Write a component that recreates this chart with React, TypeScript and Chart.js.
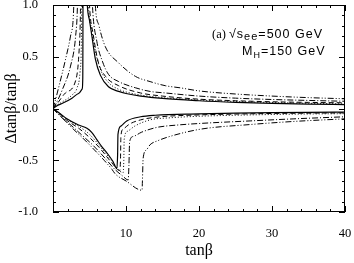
import React, { useEffect, useRef } from 'react';
import { Chart, registerables } from 'chart.js';
Chart.register(...registerables);

// ---- data ----
const xTickValues = [10, 20, 30, 40];
const yTickValues = [-1.0, -0.5, 0.0, 0.5, 1.0];

// upper branches (values above 1.0 lie outside the frame and are clipped)
const solidUpX = [0, 0.5, 1.3, 2.6, 3.5, 4.0, 4.08, 4.12, 4.6, 4.7, 5.0, 5.33, 5.8, 6.5, 7.6, 9, 10, 12, 15, 20, 25, 30, 35, 40];
const solidUpY = [0, 0.025, 0.05, 0.1, 0.145, 0.19, 0.3, 1.2, 1.2, 1.0, 0.85, 0.7, 0.48, 0.32, 0.21, 0.165, 0.145, 0.12, 0.097, 0.075, 0.06, 0.05, 0.043, 0.038];
const dotUpX = [0, 0.5, 1.3, 2.6, 3.3, 3.7, 3.9, 3.95, 4.75, 4.85, 5.3, 5.9, 6.6, 7.6, 9, 10, 12, 15, 20, 25, 30, 35, 40];
const dotUpY = [0, 0.03, 0.065, 0.13, 0.2, 0.35, 0.7, 1.2, 1.2, 1.0, 0.76, 0.52, 0.36, 0.25, 0.185, 0.16, 0.13, 0.105, 0.082, 0.068, 0.058, 0.05, 0.045];
const dashUpX = [0, 0.5, 1.7, 3.1, 3.55, 3.75, 3.8, 4.9, 5.0, 5.5, 6.2, 7.2, 9, 12, 15, 20, 25, 30, 35, 40];
const dashUpY = [0, 0.04, 0.15, 0.27, 0.53, 0.9, 1.2, 1.2, 1.0, 0.72, 0.45, 0.31, 0.22, 0.15, 0.12, 0.09, 0.075, 0.065, 0.059, 0.055];
const dashDotUpX = [0, 0.5, 1.27, 2.4, 3.1, 3.35, 3.4, 5.3, 5.4, 6.0, 6.8, 7.6, 9, 11.3, 13.3, 15.4, 20, 25, 30, 35, 40];
const dashDotUpY = [0, 0.06, 0.18, 0.41, 0.7, 1.0, 1.2, 1.2, 1.0, 0.65, 0.45, 0.33, 0.26, 0.2, 0.165, 0.15, 0.12, 0.1, 0.087, 0.078, 0.07];
const dashDotDotUpX = [0, 0.4, 0.8, 1.7, 2.4, 2.85, 2.9, 5.7, 5.8, 6.3, 7.15, 9, 11.3, 13.3, 15.4, 17.4, 20, 25, 30, 35, 40];
const dashDotDotUpY = [0, 0.1, 0.21, 0.47, 0.7, 1.0, 1.2, 1.2, 1.0, 0.8, 0.6, 0.44, 0.31, 0.26, 0.22, 0.2, 0.17, 0.14, 0.12, 0.105, 0.094];

// lower branches
const solidLoX = [0, 1, 1.9, 3.5, 4.65, 5.3, 6, 6.7, 7.4, 8.2, 8.75, 8.85, 8.9, 9.3, 10.1, 12, 14, 20, 25, 30, 35, 40];
const solidLoY = [0, -0.05, -0.1, -0.16, -0.19, -0.23, -0.3, -0.37, -0.43, -0.51, -0.58, -0.45, -0.25, -0.17, -0.12, -0.08, -0.065, -0.052, -0.045, -0.04, -0.037, -0.035];
const dotLoX = [0, 1, 2, 3.5, 5, 6.5, 8, 9.6, 9.7, 9.75, 10.2, 11.2, 13.3, 16, 20, 25, 30, 35, 40];
const dotLoY = [0, -0.055, -0.11, -0.17, -0.25, -0.37, -0.5, -0.62, -0.5, -0.3, -0.22, -0.17, -0.11, -0.09, -0.075, -0.065, -0.058, -0.053, -0.05];
const dashLoX = [0, 1, 2, 3.5, 5, 6.5, 8, 9.15, 9.25, 9.3, 9.6, 10.5, 12, 14, 20, 25, 30, 35, 40];
const dashLoY = [0, -0.06, -0.12, -0.19, -0.28, -0.39, -0.52, -0.6, -0.48, -0.27, -0.2, -0.15, -0.11, -0.085, -0.062, -0.054, -0.048, -0.045, -0.042];
const dashDotLoX = [0, 1, 2.6, 4, 5.4, 7, 8.5, 9.5, 10.3, 10.4, 10.5, 11, 12.1, 13.3, 14.4, 17, 20, 27, 33, 40];
const dashDotLoY = [0, -0.075, -0.17, -0.26, -0.35, -0.47, -0.59, -0.65, -0.69, -0.55, -0.32, -0.27, -0.23, -0.2, -0.18, -0.16, -0.145, -0.12, -0.1, -0.08];
const dashDotDotLoX = [0, 1, 2.64, 4, 5.4, 7, 8.1, 8.5, 10, 12.2, 12.25, 12.35, 12.8, 13.3, 14.4, 16, 20.2, 27, 33, 40];
const dashDotDotLoY = [0, -0.07, -0.19, -0.28, -0.38, -0.5, -0.59, -0.63, -0.7, -0.79, -0.7, -0.48, -0.4, -0.35, -0.31, -0.27, -0.2, -0.155, -0.125, -0.1];

const SOLID: number[] = [];
const DASH = [5, 3];
const DOT = [1, 2];
const DASHDOT = [6, 2, 1, 2];
const DASHDOTDOT = [6, 2, 1, 2, 1, 2];

const curves = [
  { xs: solidUpX, ys: solidUpY, dash: SOLID, w: 1.2 },
  { xs: solidLoX, ys: solidLoY, dash: SOLID, w: 1.2 },
  { xs: dotUpX, ys: dotUpY, dash: DOT, w: 1 },
  { xs: dotLoX, ys: dotLoY, dash: DOT, w: 1 },
  { xs: dashUpX, ys: dashUpY, dash: DASH, w: 1 },
  { xs: dashLoX, ys: dashLoY, dash: DASH, w: 1 },
  { xs: dashDotUpX, ys: dashDotUpY, dash: DASHDOT, w: 1 },
  { xs: dashDotLoX, ys: dashDotLoY, dash: DASHDOT, w: 1 },
  { xs: dashDotDotUpX, ys: dashDotDotUpY, dash: DASHDOTDOT, w: 1 },
  { xs: dashDotDotLoX, ys: dashDotDotLoY, dash: DASHDOTDOT, w: 1 },
];

const SERIF = "'Liberation Serif', 'Times New Roman', serif";
const SANS = "'Liberation Sans', Arial, sans-serif";

export default function App() {
  const ref = useRef<HTMLCanvasElement>(null);
  useEffect(() => {
    document.body.style.margin = '0';
    const canvas = ref.current!;
    const framePlugin = {
      id: 'framePlugin',
      afterDatasetsDraw(chart: any) {
        const { ctx, chartArea: a, scales } = chart;
        const xs = scales.x, ys = scales.y;
        ctx.save();
        ctx.strokeStyle = '#000';
        ctx.lineWidth = 1;
        ctx.setLineDash([]);
        ctx.strokeRect(Math.round(a.left) + 0.5, Math.round(a.top) + 0.5, Math.round(a.right - a.left) - 1, Math.round(a.bottom - a.top) - 1);
        const seg = (x1: number, y1: number, x2: number, y2: number) => {
          ctx.beginPath(); ctx.moveTo(x1, y1); ctx.lineTo(x2, y2); ctx.stroke();
        };
        for (let v = 0; v <= 40; v += 2) {
          const px = Math.round(xs.getPixelForValue(v)) + 0.5;
          const len = v % 10 === 0 ? 6 : 3;
          seg(px, a.bottom, px, a.bottom - len);
          seg(px, a.top, px, a.top + len);
        }
        for (let i = -10; i <= 10; i++) {
          const py = Math.round(ys.getPixelForValue(i / 10)) + 0.5;
          const len = i % 5 === 0 ? 6 : 3;
          seg(a.left, py, a.left + len, py);
          seg(a.right, py, a.right - len, py);
        }
        // annotation
        ctx.fillStyle = '#000';
        ctx.textBaseline = 'alphabetic';
        ctx.textAlign = 'left';
        const b1 = a.top + 33;
        const b2 = a.top + 50;
        let x = a.left + 159;
        const put = (t: string, font: string, dy: number, sp: string) => {
          ctx.font = font;
          (ctx as any).letterSpacing = sp;
          ctx.fillText(t, x, dy);
          x += ctx.measureText(t).width;
        };
        put('(a) ', `12.5px ${SERIF}`, b1, '0px');
        put('\u221As', `12.5px ${SANS}`, b1, '1px');
        put('ee', `11px ${SANS}`, b1 + 2, '1px');
        put('=500 GeV', `12.5px ${SANS}`, b1, '1px');
        x = a.left + 189;
        put('M', `12.5px ${SANS}`, b2, '1px');
        put('H', `9px ${SANS}`, b2 + 3, '1px');
        put('=150 GeV', `12.5px ${SANS}`, b2, '1px');
        ctx.restore();
      },
    };

    const chart = new Chart(canvas, {
      type: 'line',
      data: {
        datasets: curves.map((c) => ({
          data: c.xs.map((x, i) => ({ x, y: c.ys[i] })),
          borderColor: '#000',
          borderWidth: c.w,
          borderDash: c.dash,
          pointRadius: 0,
          fill: false,
          cubicInterpolationMode: 'monotone' as const,
        })),
      },
      options: {
        responsive: false,
        animation: false,
        layout: { padding: { left: 0, right: 9, top: 5, bottom: 0 } },
        plugins: { legend: { display: false }, tooltip: { enabled: false } },
        scales: {
          x: {
            type: 'linear',
            min: 0,
            max: 40,
            grid: { display: false },
            border: { display: false },
            afterBuildTicks: (s: any) => { s.ticks = xTickValues.map((v) => ({ value: v })); },
            afterFit: (s: any) => { s.height = 51; s.paddingLeft = 0; s.paddingRight = 0; },
            ticks: {
              color: '#000',
              padding: 6,
              font: { family: SERIF, size: 12.5 },
              maxRotation: 0,
              callback: (v: any) => String(v),
            },
            title: {
              display: true,
              text: 'tan\u03B2',
              color: '#000',
              font: { family: SERIF, size: 16 },
              padding: { top: 0, bottom: 3 },
            },
          },
          y: {
            type: 'linear',
            min: -1,
            max: 1,
            grid: { display: false },
            border: { display: false },
            afterBuildTicks: (s: any) => { s.ticks = yTickValues.map((v) => ({ value: v })); },
            afterFit: (s: any) => { s.width = 53; s.paddingTop = 0; s.paddingBottom = 0; },
            ticks: {
              color: '#000',
              padding: 7,
              font: { family: SERIF, size: 12.5 },
              callback: (v: any) => Number(v).toFixed(1),
            },
            title: {
              display: true,
              text: '\u0394tan\u03B2/tan\u03B2',
              color: '#000',
              font: { family: SERIF, size: 16 },
              padding: { top: 2, bottom: 0 },
            },
          },
        },
      },
      plugins: [framePlugin],
    } as any);
    return () => chart.destroy();
  }, []);
  return (
    <div style={{ position: 'fixed', left: 0, top: 0, width: 354, height: 263, background: '#fff' }}>
      <canvas ref={ref} width={354} height={263} />
    </div>
  );
}
